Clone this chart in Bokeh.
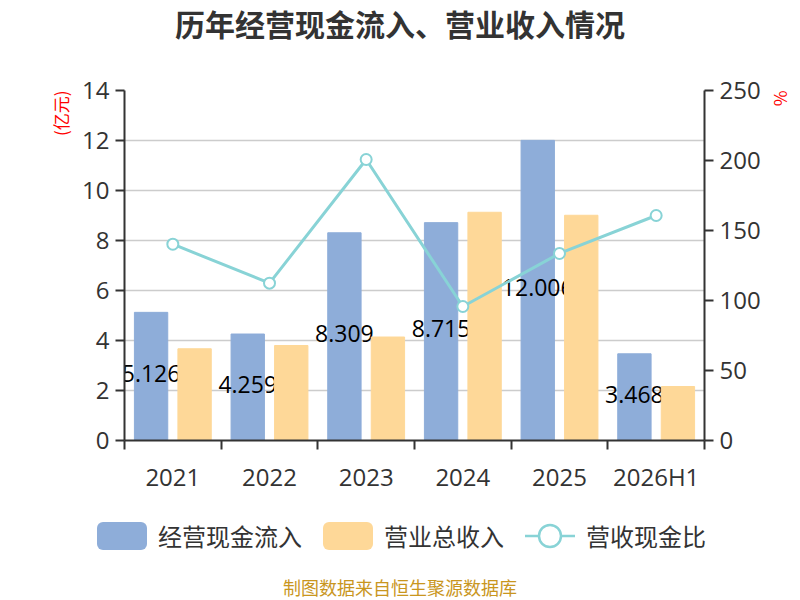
from bokeh.plotting import figure
from bokeh.layouts import column
from bokeh.models import (LinearAxis, Range1d, FixedTicker, ColumnDataSource, Title, Div)
from bokeh.transform import dodge
from bokeh.core.properties import value
from bokeh.embed import file_html
from bokeh.resources import INLINE

categories = ["2021", "2022", "2023", "2024", "2025", "2026H1"]
cash_inflow = [5.126, 4.259, 8.309, 8.715, 12.006, 3.468]
revenue = [3.67, 3.80, 4.14, 9.13, 9.01, 2.16]
ratio = [140.2, 112.4, 200.7, 95.7, 133.6, 160.7]
left_ticks = [0, 2, 4, 6, 8, 10, 12, 14]
right_ticks = [0, 50, 100, 150, 200, 250]
series_names = ["经营现金流入", "营业总收入", "营收现金比"]
title_text = "历年经营现金流入、营业收入情况"
source_text = "制图数据来自恒生聚源数据库"

BLUE = "#8eadd9"
ORANGE = "#fed898"
TEAL = "#88d3d6"
DARK = "#333333"
CJK = "Noto Sans CJK SC"
NUM = "Open Sans"

# ---------- header ----------
head = Div(width=800, height=50, margin=(0, 0, 0, 0), text=(
    f'<div style="width:800px;height:50px;text-align:center;line-height:46px;'
    f'font-family:\'{CJK}\';font-size:30px;font-weight:bold;color:{DARK};'
    f'white-space:nowrap;">{title_text}</div>'))

# ---------- main chart ----------
idx = list(range(len(categories)))
src = ColumnDataSource(dict(
    x=idx,
    cash=cash_inflow,
    rev=revenue,
    ratio=ratio,
    mid=[v / 2 for v in cash_inflow],
    lbl=["{:.3f}".format(v) for v in cash_inflow],
))

p = figure(width=800, height=446, output_backend="svg", toolbar_location=None,
           title=None,
           x_range=Range1d(-0.5, len(categories) - 0.5), y_range=Range1d(0, 14),
           min_border_left=124, min_border_right=89, min_border_top=40,
           min_border_bottom=56)
p.extra_y_ranges = {"pct": Range1d(0, 250)}
p.outline_line_color = None

p.vbar(x=dodge("x", -0.225, range=p.x_range), top="cash", width=0.345,
       source=src, fill_color=BLUE, line_color=BLUE)
p.text(x=dodge("x", -0.225, range=p.x_range), y="mid", text="lbl", source=src,
       text_align="center", text_baseline="middle", y_offset=-3,
       text_font=value(NUM), text_font_size="23px", text_color="black")
p.vbar(x=dodge("x", 0.225, range=p.x_range), top="rev", width=0.345,
       source=src, fill_color=ORANGE, line_color=ORANGE)
p.line(x="x", y="ratio", source=src, y_range_name="pct",
       line_color=TEAL, line_width=3)
p.scatter(x="x", y="ratio", source=src, y_range_name="pct", size=11,
          marker="circle", fill_color="white", line_color=TEAL, line_width=2)

p.xgrid.visible = False
p.ygrid.ticker = FixedTicker(ticks=left_ticks)
p.ygrid.grid_line_color = "#cccccc"
p.ygrid.grid_line_width = 1.5

def style_axis(ax):
    ax.axis_line_color = DARK
    ax.axis_line_width = 2
    ax.major_tick_line_color = DARK
    ax.major_tick_line_width = 2
    ax.major_tick_out = 9
    ax.major_tick_in = 0
    ax.minor_tick_line_color = None
    ax.major_label_text_font = NUM
    ax.major_label_text_font_size = "24px"
    ax.major_label_text_color = DARK
    ax.major_label_standoff = 6

ly = p.yaxis[0]
ly.ticker = FixedTicker(ticks=left_ticks)
style_axis(ly)

ry = LinearAxis(y_range_name="pct", ticker=FixedTicker(ticks=right_ticks))
style_axis(ry)
p.add_layout(ry, "right")

xa = p.xaxis[0]
style_axis(xa)
xa.ticker = FixedTicker(ticks=idx, minor_ticks=[i - 0.5 for i in range(len(categories) + 1)])
xa.major_label_overrides = {i: c for i, c in enumerate(categories)}
xa.major_tick_line_color = None
xa.major_tick_out = 0
xa.minor_tick_line_color = DARK
xa.minor_tick_line_width = 2
xa.minor_tick_out = 9
xa.minor_tick_in = 0
xa.major_label_standoff = 10

p.add_layout(Title(text="(亿元)", align="right", text_color="red", text_font=CJK,
                   text_font_size="17px", text_font_style="normal", standoff=14), "left")
p.add_layout(Title(text="%", align="left", text_color="red", text_font=CJK,
                   text_font_size="17px", text_font_style="normal", standoff=10), "right")

# ---------- legend + footer ----------
def swatch(color, first=False):
    ml = "0" if first else "21px"
    return (f'<span style="flex:none;display:inline-block;width:50px;height:28px;'
            f'border-radius:6px;background:{color};margin-left:{ml};"></span>')

def lab(t):
    return f'<span style="flex:none;margin-left:11px;line-height:28px;">{t}</span>'

line_icon = (f'<svg width="50" height="28" style="flex:none;margin-left:21px;">'
             f'<line x1="0" y1="14" x2="50" y2="14" stroke="{TEAL}" stroke-width="2.5"/>'
             f'<circle cx="25" cy="14" r="11" fill="white" stroke="{TEAL}" stroke-width="2.5"/>'
             f'</svg>')

foot_html = (
    f'<div style="position:relative;width:800px;height:104px;font-family:\'{CJK}\';">'
    f'<div style="position:absolute;left:97px;top:26px;height:28px;display:flex;'
    f'align-items:center;white-space:nowrap;font-size:24px;color:{DARK};">'
    + swatch(BLUE, True) + lab(series_names[0])
    + swatch(ORANGE) + lab(series_names[1])
    + line_icon + lab(series_names[2])
    + '</div>'
    f'<div style="position:absolute;left:0;top:82px;width:800px;text-align:center;'
    f'font-size:18px;line-height:18px;color:#c9961e;white-space:nowrap;">{source_text}</div>'
    '</div>')
foot = Div(width=800, height=104, margin=(0, 0, 0, 0), text=foot_html)

layout = column(head, p, foot, spacing=0)
open("out.html", "w").write(file_html(layout, INLINE))
